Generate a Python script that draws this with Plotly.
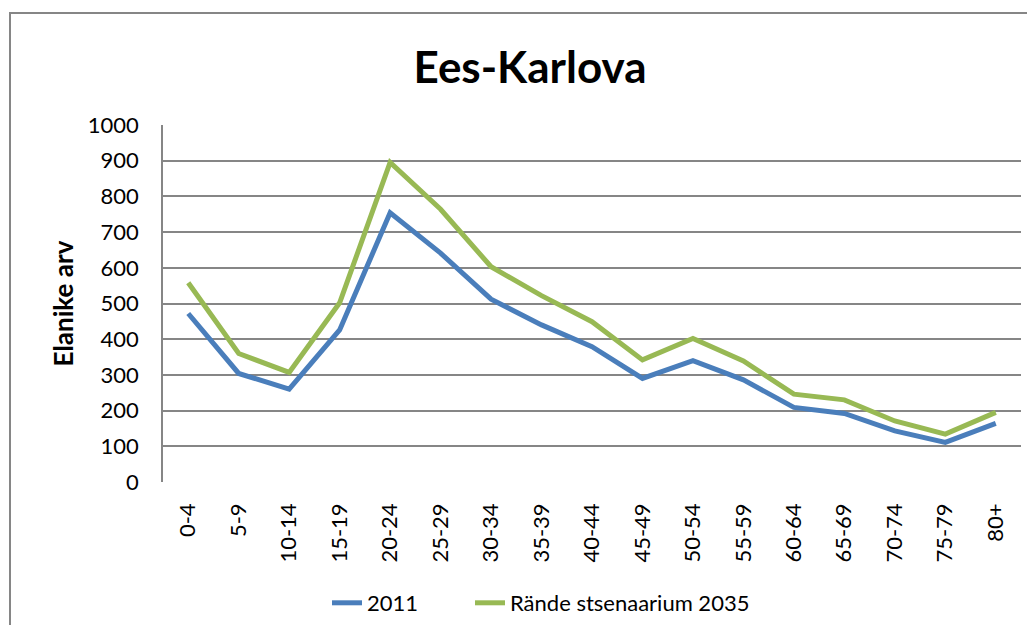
import plotly.graph_objects as go

categories = ["0-4", "5-9", "10-14", "15-19", "20-24", "25-29", "30-34", "35-39",
              "40-44", "45-49", "50-54", "55-59", "60-64", "65-69", "70-74", "75-79", "80+"]
series_2011 = [472, 304, 260, 426, 754, 641, 512, 440, 379, 290, 340, 286, 209, 192, 143, 111, 164]
series_2035 = [558, 360, 307, 502, 895, 764, 603, 522, 449, 342, 402, 339, 246, 230, 171, 134, 195]
y_ticks = [0, 100, 200, 300, 400, 500, 600, 700, 800, 900, 1000]

# page body has an 8px margin; figure is sized/positioned to compensate
OFF = 8
W, H = 1035 - 2 * OFF, 633 - 2 * OFF
ML, MT = 163 - OFF, 125 - OFF
MR = W - (1021 - OFF)
MB = H - (482 - OFF)
pw, ph = W - ML - MR, H - MT - MB

FONT = "Lato"

fig = go.Figure()
fig.add_trace(go.Scatter(x=categories, y=series_2011, mode="lines", name="2011",
                         line=dict(color="#4A7EBB", width=5), legend="legend"))
fig.add_trace(go.Scatter(x=categories, y=series_2035, mode="lines", name="Rände stsenaarium 2035",
                         line=dict(color="#98B954", width=5), legend="legend2"))

# outer chart border
fig.add_shape(type="rect", xref="paper", yref="paper",
              x0=(10 - OFF - ML) / pw, x1=(1060 - OFF - ML) / pw,
              y0=-(660 - OFF - MT - ph) / ph, y1=1 + (MT - (13 - OFF)) / ph,
              line=dict(color="#868686", width=2), fillcolor="rgba(0,0,0,0)", layer="below")

# y-axis title
fig.add_annotation(text="<b>Elanike arv</b>", xref="paper", yref="paper",
                   x=(62 - OFF - ML) / pw, y=0.5, xanchor="center", yanchor="middle",
                   textangle=-90, showarrow=False,
                   font=dict(family=FONT, size=26, color="black"))

leg_common = dict(orientation="h", xref="container", xanchor="left",
                  y=1 - (603 - OFF) / H, yref="container", yanchor="middle",
                  font=dict(family=FONT, size=22, color="black"),
                  bgcolor="rgba(0,0,0,0)")

fig.update_layout(
    width=W, height=H,
    margin=dict(l=ML, r=MR, t=MT, b=MB, autoexpand=False),
    paper_bgcolor="white", plot_bgcolor="white",
    font=dict(family=FONT, color="black"),
    title=dict(text="<b>Ees-Karlova</b>", font=dict(family=FONT, size=44, color="black"),
               x=(530 - OFF) / W, xanchor="center", xref="container",
               y=1 - (68 - OFF) / H, yanchor="middle", yref="container"),
    showlegend=True,
    legend=dict(x=(327 - OFF) / W, **leg_common),
    legend2=dict(x=(470 - OFF) / W, **leg_common),
    xaxis=dict(type="category", tickangle=-90, tickfont=dict(family=FONT, size=22),
               showgrid=False, showline=False, zeroline=False, ticks="", automargin=False,
               ticklabelstandoff=16, range=[-0.5, len(categories) - 0.5]),
    yaxis=dict(range=[0, 1000], tickvals=y_ticks, tickfont=dict(family=FONT, size=22),
               showgrid=True, gridcolor="#868686", gridwidth=1.5, automargin=False,
               showline=True, linecolor="#868686", linewidth=1.5, zeroline=False,
               ticks="", ticklabelstandoff=18),
)

fig.write_html("out.html")
